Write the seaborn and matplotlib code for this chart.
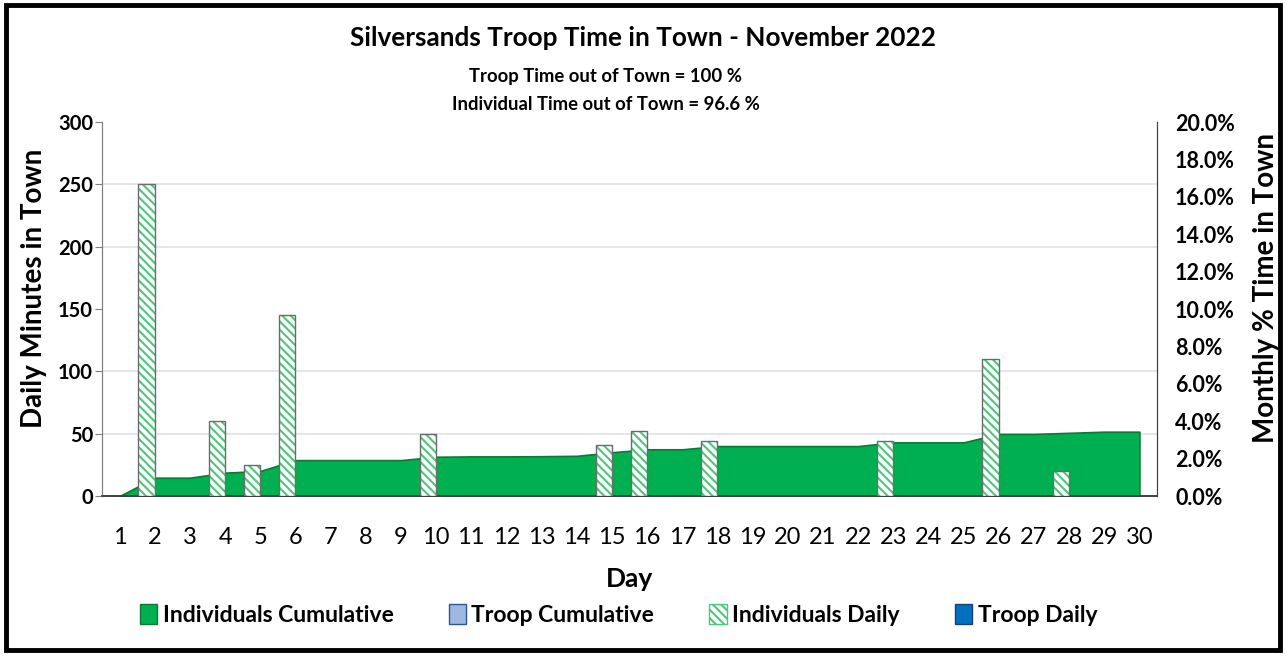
import matplotlib
matplotlib.use("Agg")
import matplotlib.pyplot as plt
import matplotlib.patches as mpatches
from matplotlib.ticker import FixedLocator, PercentFormatter
import numpy as np
import pandas as pd
import seaborn as sns

# data
days = list(range(1, 31))
indiv_daily = [0, 250, 0, 60, 25, 145, 0, 0, 0, 50, 0, 0, 0, 0, 41,
               52, 0, 44, 0, 0, 0, 0, 44, 0, 0, 110, 0, 20, 0, 0]
troop_daily = [0] * 30
indiv_cum_pct = [0.0, 0.98, 0.98, 1.25, 1.34, 1.92, 1.92, 1.92, 1.92, 2.10,
                 2.12, 2.12, 2.13, 2.15, 2.34, 2.50, 2.50, 2.67, 2.67, 2.67,
                 2.67, 2.67, 2.87, 2.87, 2.87, 3.32, 3.32, 3.38, 3.44, 3.44]
troop_cum_pct = [0.0] * 30

title = "Silversands Troop Time in Town - November 2022"
sub1 = "Troop Time out of Town = 100 %"
sub2 = "Individual Time out of Town = 96.6 %"

sns.set_style("white")
plt.rcParams["font.family"] = ["Lato", "DejaVu Sans"]
plt.rcParams["hatch.linewidth"] = 1.5
for k in ["text.color", "axes.labelcolor", "xtick.color", "ytick.color"]:
    plt.rcParams[k] = "black"

green = "#00B050"
hatch_green = "#4cc77a"

fig = plt.figure(figsize=(12.86, 6.57), dpi=100)
ax = fig.add_axes([0.0793, 0.245, 0.8204, 0.5693])
ax2 = ax.twinx()

# cumulative area on the right axis (drawn behind)
x = np.arange(30)
ax2.fill_between(x, [v / 100 for v in indiv_cum_pct], 0, color=green,
                 edgecolor="#0a7a35", linewidth=1.2, zorder=2)
ax2.set_ylim(0, 0.2)
ax2.yaxis.set_major_locator(FixedLocator(np.arange(0, 0.201, 0.02)))
ax2.yaxis.set_major_formatter(PercentFormatter(1.0, decimals=1))
# gridlines of the minutes axis, kept behind the area
ax2.yaxis.set_minor_locator(FixedLocator(np.arange(50, 301, 50) / 300 * 0.2))
ax2.yaxis.grid(True, which="minor", color="#e3e3e3", linewidth=1.3, zorder=0)
ax2.set_axisbelow(True)
ax2.set_ylabel("Monthly % Time in Town", fontsize=20, fontweight="bold")
ax2.yaxis.set_label_coords(1.091, 0.556)

# daily bars on the left axis (drawn on top)
df = pd.DataFrame({
    "Day": [str(d) for d in days] * 2,
    "Minutes": indiv_daily + troop_daily,
    "Series": ["Individuals Daily"] * 30 + ["Troop Daily"] * 30,
})
pal = {"Individuals Daily": "white", "Troop Daily": "#0070C0"}
sns.barplot(data=df, x="Day", y="Minutes", hue="Series", palette=pal,
            width=0.93, dodge=True, ax=ax, legend=False, linewidth=0,
            zorder=3)
for p in list(ax.patches[:30]):
    p.set_edgecolor(hatch_green)
    p.set_hatch("\\\\\\\\")
    p.set_linewidth(0)
    if p.get_height() > 0:
        ax.add_patch(mpatches.Rectangle(p.get_xy(), p.get_width(),
                                        p.get_height(), fill=False,
                                        edgecolor="#6b6b6b", linewidth=1.0,
                                        zorder=4))

ax.set_zorder(ax2.get_zorder() + 1)
ax.patch.set_visible(False)

ax.set_ylim(0, 300)
ax.set_xlim(-0.5, 29.5)
ax.set_yticks(range(0, 301, 50))
ax.set_xticks(x)
ax.set_xticklabels([str(d) for d in days], fontsize=17)
ax.set_xticks(np.arange(-0.5, 30, 1), minor=True)
ax.tick_params(axis="x", which="major", length=0, pad=22)
ax.tick_params(axis="x", which="minor", length=7, color="#404040", width=1)
ax.tick_params(axis="y", length=5, color="#808080", labelsize=14.5, pad=1.5)
ax2.tick_params(axis="y", which="both", length=0, labelsize=15.5, pad=13)
for lab in ax.get_yticklabels() + ax2.get_yticklabels():
    lab.set_fontweight("bold")
ax.set_ylabel("Daily Minutes in Town", fontsize=20, fontweight="bold")
ax.yaxis.set_label_coords(-0.052, 0.556)
ax.set_xlabel("Day", fontsize=19, fontweight="bold", labelpad=14)

for a in (ax, ax2):
    a.spines["top"].set_visible(False)
    a.spines["left"].set_color("#808080")
    a.spines["right"].set_color("#404040")
    a.spines["bottom"].set_color("#404040")
    a.spines["bottom"].set_linewidth(1.2)

fig.text(0.5, 0.942, title, ha="center", va="center", fontsize=18.8,
         fontweight="bold")
fig.text(0.471, 0.884, sub1, ha="center", va="center", fontsize=13.3,
         fontweight="bold")
fig.text(0.471, 0.841, sub2, ha="center", va="center", fontsize=13.3,
         fontweight="bold")

handles = [
    mpatches.Patch(facecolor=green, edgecolor="#0a7a35",
                   label="Individuals Cumulative"),
    mpatches.Patch(facecolor="#9fb8e0", edgecolor="#2F5597",
                   label="Troop Cumulative"),
    mpatches.Patch(facecolor="white", edgecolor=hatch_green, hatch="\\\\\\\\",
                   label="Individuals Daily"),
    mpatches.Patch(facecolor="#0070C0", edgecolor="#1f3f6f",
                   label="Troop Daily"),
]
fig.legend(handles=handles, loc="center", bbox_to_anchor=(0.481, 0.064),
           ncol=4, frameon=False, handlelength=0.75, handleheight=1.0,
           handletextpad=0.25, columnspacing=2.4,
           prop={"size": 16.5, "weight": "bold"})

fig.add_artist(mpatches.Rectangle((0.005, 0.01), 0.99, 0.982,
                                  transform=fig.transFigure, fill=False,
                                  edgecolor="black", linewidth=3.5))

fig.savefig("out.png", dpi=100)
